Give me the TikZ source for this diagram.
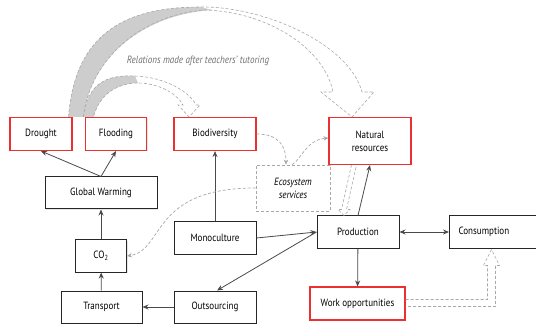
\documentclass[tikz,border=0pt]{standalone}
\usepackage{fontspec}
\setmainfont{PT Sans}[FakeStretch=0.86]
\usetikzlibrary{arrows.meta,shadows,calc}
\definecolor{ink}{HTML}{4A4A4A}
\definecolor{alert}{HTML}{EC2F2F}
\definecolor{hint}{HTML}{A8A8A8}
\definecolor{ribbon}{HTML}{CDCDCD}
\newcommand\boxfont{\fontsize{10.5pt}{13pt}\selectfont}

\begin{document}
\begin{tikzpicture}[x=1pt,y=-1pt,font=\boxfont,
  box/.style={draw=black!85,fill=white,line width=1pt,align=center,inner sep=2pt,
    drop shadow={shadow xshift=1pt,shadow yshift=-1pt,opacity=0.2}},
  redbox/.style={box,draw=alert,line width=1.1pt},
  link/.style={ink,line width=0.8pt,-{Stealth[length=6pt,width=5pt]}},
  hintlink/.style={hint,dash pattern=on 3pt off 2pt,line width=0.7pt,-{Stealth[length=5pt,width=4.5pt]}},
  rib/.style={hint,dash pattern=on 3pt off 2pt,line width=0.6pt}]
  \useasboundingbox (0,0) rectangle (536,326);
  % ----- boxes -----
  \node[redbox,minimum width=62pt,minimum height=33pt] (drought) at (41,134) {Drought};
  \node[redbox,minimum width=61pt,minimum height=33pt] (flooding) at (116,134) {Flooding};
  \node[redbox,minimum width=82pt,minimum height=33pt] (biodiv) at (215,134) {Biodiversity};
  \node[redbox,minimum width=82pt,minimum height=47pt] (natres) at (370,141) {Natural\\resources};
  \node[box,minimum width=112pt,minimum height=32pt] (gw) at (101,193) {Global Warming};
  \node[box,minimum width=51pt,minimum height=32pt] (co2) at (101,256) {CO\textsubscript{2}};
  \node[box,minimum width=81pt,minimum height=32pt] (transport) at (101.5,307) {Transport};
  \node[box,minimum width=82pt,minimum height=32pt] (mono) at (215,238) {Monoculture};
  \node[box,minimum width=82pt,minimum height=32pt] (outs) at (215,307) {Outsourcing};
  \node[box,minimum width=82pt,minimum height=32pt] (prod) at (358,232) {Production};
  \node[box,minimum height=32pt,anchor=west,align=left,text width=74pt,inner xsep=9pt] (cons) at (449,232) {Consumption};
  \node[redbox,minimum width=95pt,minimum height=33pt] (work) at (357.5,303.5) {Work opportunities};
  \node[draw=hint,dash pattern=on 3pt off 2pt,line width=0.7pt,fill=white,align=center,
    minimum width=74pt,minimum height=46pt,font=\boxfont\itshape] (eco) at (293,188) {Ecosystem\\services};
  \node[text=ink!80,font=\boxfont\itshape] (note) at (198,61) {Relations made after teachers' tutoring};

  % ----- causal links -----
  \draw[link] (gw.north) -- (drought.south);
  \draw[link] (gw.north) -- (flooding.south);
  \draw[link] (co2) -- (gw);
  \draw[link] (transport) -- (co2);
  \draw[link] (outs) -- (transport);
  \draw[link] (mono) -- (biodiv);
  \draw[link] (mono.east) -- (prod.west);
  \draw[link] (prod.west) -- ([xshift=2pt]outs.north);
  \draw[link] (prod.north) -- (natres.south);
  \draw[link,{Stealth[length=6pt,width=5pt]}-{Stealth[length=6pt,width=5pt]}] (prod) -- (cons);
  \draw[link] (prod) -- (work);

  % ----- ecosystem services -----
  \draw[hintlink] (biodiv.east) .. controls (278,134) and (286,145) .. ([xshift=-7pt]eco.north);
  \draw[hintlink] ([xshift=-1pt]eco.north) .. controls (301,160) and (306,140) .. ([yshift=3pt]natres.west);
  \draw[hintlink] (eco.west) .. controls (150,188) and (165,250) .. (co2.east);

  % ----- hollow arrows -----
  \coordinate (nr-foot) at ([xshift=-16pt]natres.south);
  \coordinate (pr-tip) at ([xshift=-14pt]prod.north);
  \draw[rib] ($(nr-foot)+(-2.5,0)$) -- ($(pr-tip)+(-2.5,-6)$) -- ($(pr-tip)+(-6,-6)$) -- (pr-tip)
     -- ($(pr-tip)+(6,-6)$) -- ($(pr-tip)+(2.5,-6)$) -- ($(nr-foot)+(2.5,0)$);
  \coordinate (wo-foot) at (work.east);
  \coordinate (co-tip) at ([xshift=-4pt,yshift=-1pt]cons.south);
  \draw[rib] ($(wo-foot)+(0,-4)$) -| ($(co-tip)+(-4,16)$) -- ($(co-tip)+(-8,16)$) -- (co-tip)
     -- ($(co-tip)+(8,16)$) -- ($(co-tip)+(4,16)$) |- ($(wo-foot)+(0,3)$);

  % ----- ribbons -----
  \coordinate (dr-a) at ([xshift=-4pt]drought.north east);
  \coordinate (dr-b) at ([xshift=-1.5pt]flooding.north west);
  \coordinate (fl-b) at ([xshift=8.5pt]flooding.north west);
  \coordinate (nr-tip) at ([xshift=-18pt]natres.north);
  \coordinate (bd-tip) at ([xshift=-26pt]biodiv.north);
  % drought -> natural resources
  \fill[ribbon] (dr-a) .. controls (75,30) and (130,7) .. (200,7) -- (212,10)
     .. controls (140,15) and (90,60) .. (dr-b) -- cycle;
  \draw[rib] (dr-a) .. controls (75,30) and (130,7) .. (200,7)
     .. controls (265,6) and (350,45) .. (362,92) -- (374,92) -- (nr-tip) -- (321,92) -- (333,92)
     .. controls (325,50) and (270,12) .. (205,10) .. controls (140,15) and (90,60) .. (dr-b);
  % flooding -> biodiversity
  \fill[ribbon] (dr-b) .. controls (88,80) and (110,75) .. (135,76) -- (138,83)
     .. controls (120,83) and (100,92) .. (fl-b) -- cycle;
  \draw[rib] (dr-b) .. controls (88,80) and (110,75) .. (135,76)
     .. controls (165,77) and (190,92) .. (196,105) -- (200,105) -- (bd-tip) -- (178,105) -- (183,105)
     .. controls (178,95) and (160,83) .. (138,83) .. controls (120,83) and (100,92) .. (fl-b);
\end{tikzpicture}
\end{document}
